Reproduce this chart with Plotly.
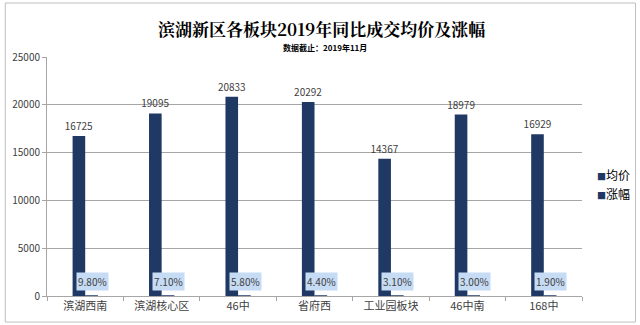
import plotly.graph_objects as go

# 板块名称、成交均价（元/㎡）与同比涨幅
districts = ["滨湖西南", "滨湖核心区", "46中", "省府西", "工业园板块", "46中南", "168中"]
avg_price = [16725, 19095, 20833, 20292, 14367, 18979, 16929]
growth = [0.098, 0.071, 0.058, 0.044, 0.031, 0.030, 0.019]
y_ticks = [0, 5000, 10000, 15000, 20000, 25000]
series_names = ["均价", "涨幅"]

NAVY = "#1f3864"
TEXT = "#404040"
FONT = "Noto Sans CJK SC"

fig = go.Figure()

fig.add_trace(go.Bar(
    name=series_names[0], x=districts, y=avg_price,
    marker=dict(color=NAVY, line=dict(width=0)),
    text=[str(v) for v in avg_price], textposition="outside",
    textfont=dict(size=10, color=TEXT, family=FONT),
    constraintext="none", cliponaxis=False, showlegend=False,
))
fig.add_trace(go.Bar(
    name=series_names[1], x=districts, y=growth,
    marker=dict(color=NAVY, line=dict(width=1, color=NAVY)),
    showlegend=False,
))

# 涨幅数据标签（浅蓝底框）
for d, g in zip(districts, growth):
    fig.add_annotation(
        x=d, y=0, xref="x", yref="y", text=f"{g * 100:.2f}%",
        showarrow=False, xanchor="center", yanchor="bottom",
        xshift=7, yshift=5,
        font=dict(size=10, color=TEXT, family=FONT),
        bgcolor="#c6dbf4", borderpad=1,
    )

# 图例：小方块 + 系列名
for i, name in enumerate(series_names):
    fig.add_annotation(
        x=1.025, y=0.51 - i * 0.08, xref="paper", yref="paper",
        xanchor="left", yanchor="middle", showarrow=False,
        text=f"<span style='color:{NAVY};font-size:9px'>■</span>{name}",
        font=dict(size=12, color="#000000", family=FONT),
    )

# 标题与副标题
fig.add_annotation(
    x=0.514, y=1.118, xref="paper", yref="paper", yanchor="middle",
    text="<b>滨湖新区各板块2019年同比成交均价及涨幅</b>", showarrow=False,
    font=dict(size=17, color="#000000", family="Noto Serif CJK SC, " + FONT),
)
fig.add_annotation(
    x=0.52, y=1.038, xref="paper", yref="paper", yanchor="middle",
    text="<b>数据截止：2019年11月</b>", showarrow=False,
    font=dict(size=8, color="#000000", family=FONT),
)

# 图表外框
fig.add_shape(
    type="rect", xref="paper", yref="paper",
    x0=-0.078, x1=1.1, y0=-0.109, y1=1.226,
    line=dict(color="#bfbfbf", width=1), fillcolor="rgba(0,0,0,0)", layer="below",
)

fig.update_layout(
    width=640, height=325,
    margin=dict(l=45, r=58, t=57, b=29),
    paper_bgcolor="white", plot_bgcolor="white",
    barmode="group", bargap=0.67, bargroupgap=0,
    font=dict(family=FONT, color=TEXT),
    showlegend=False,
    xaxis=dict(
        showline=True, linecolor="#a6a6a6", linewidth=1,
        ticks="outside", tickson="boundaries", ticklen=4, tickcolor="#a6a6a6",
        tickfont=dict(size=11, color=TEXT, family=FONT),
        showgrid=False,
    ),
    yaxis=dict(
        range=[0, 25000], tickvals=y_ticks, tickformat="d",
        showline=True, linecolor="#a6a6a6", linewidth=1,
        ticks="outside", ticklen=4, tickcolor="#a6a6a6",
        gridcolor="#a6a6a6", gridwidth=1,
        tickfont=dict(size=10, color=TEXT, family=FONT),
        zeroline=False,
    ),
)

fig.write_html("out.html")
